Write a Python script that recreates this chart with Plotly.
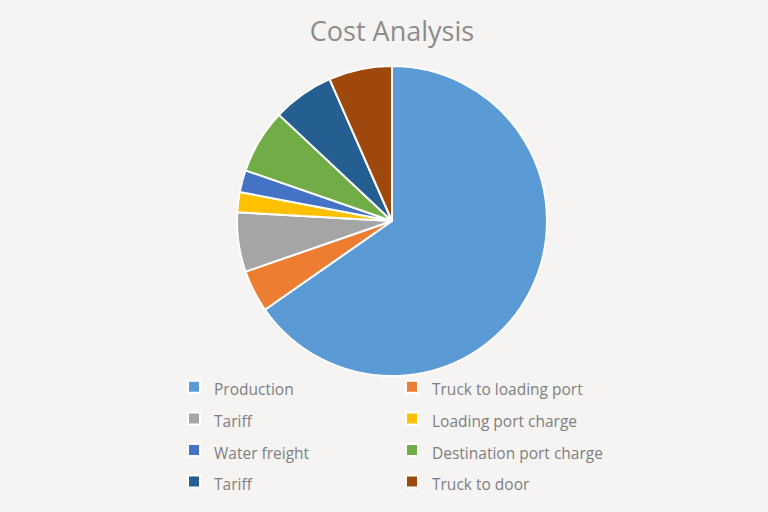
import plotly.graph_objects as go

# Cost breakdown (share of total)
labels = ["Production", "Truck to loading port", "Tariff", "Loading port charge",
          "Water freight", "Destination port charge", "Tariff ", "Truck to door"]
values = [65.3, 4.4, 6.2, 2.1, 2.3, 6.7, 6.4, 6.6]
colors = ["#5B9BD5", "#ED7D31", "#A5A5A5", "#FFC000",
          "#4472C4", "#70AD47", "#255E91", "#9E480E"]

W, H = 768, 512
R_MARGIN = 150          # narrows the plot area so the legend wraps into 2 columns
PW = W - R_MARGIN
bg = "#F5F4F2"

# legend labels drawn smaller than the legend font so rows get Excel-like spacing
shown = [f"<span style='font-size:15.5px'>{l}</span>" for l in labels]

fig = go.Figure()

fig.add_trace(go.Pie(
    labels=shown,
    values=values,
    sort=False,
    direction="clockwise",
    rotation=0,
    textinfo="none",
    marker=dict(colors=colors, line=dict(color="white", width=2)),
    domain=dict(x=[237 / PW, 547 / PW], y=[1 - 376 / H, 1 - 66 / H]),
    hoverinfo="label+value+percent",
))

fig.update_layout(
    width=W,
    height=H,
    paper_bgcolor=bg,
    plot_bgcolor=bg,
    margin=dict(l=0, r=R_MARGIN, t=0, b=0),
    font=dict(family="Open Sans", color="#7F7F7F"),
    title=dict(
        text="Cost Analysis",
        x=392 / W,
        xanchor="center",
        y=1 - 32 / H,
        yanchor="middle",
        font=dict(size=27, color="#8C8C8C", family="Open Sans"),
    ),
    legend=dict(
        orientation="h",
        x=174 / PW,
        xanchor="left",
        y=1 - 366 / H,
        yanchor="top",
        entrywidth=173,
        entrywidthmode="pixels",
        font=dict(size=22, color="#7F7F7F"),
        bgcolor="rgba(0,0,0,0)",
        traceorder="normal",
    ),
)

fig.write_html("out.html", config={"displayModeBar": False},
               post_script="document.body.style.margin='0';")
